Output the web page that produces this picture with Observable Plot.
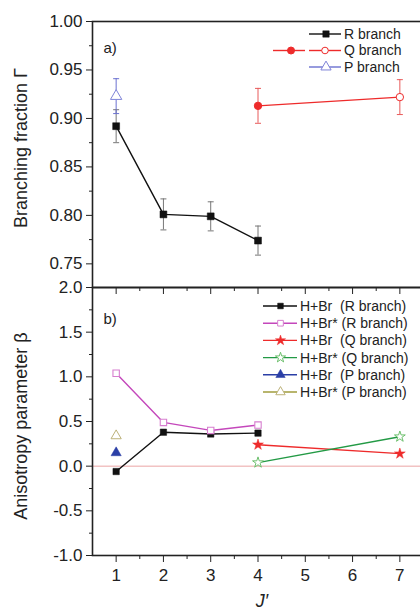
<!DOCTYPE html>
<html><head><meta charset="utf-8">
<script src="https://cdn.jsdelivr.net/npm/d3@7"></script>
<script src="https://cdn.jsdelivr.net/npm/@observablehq/plot@0.6"></script>
<style>
html,body{margin:0;padding:0;background:#fff;overflow:hidden;}
#wrap{position:relative;width:420px;height:612px;overflow:hidden;font-family:"Liberation Sans",Arial,Helvetica,sans-serif;color:#222;}
.ytitle{position:absolute;white-space:nowrap;font-size:18px;line-height:1;transform:translate(-50%,-50%) rotate(-90deg);}
.xtitle{position:absolute;white-space:nowrap;font-size:18px;line-height:1;font-style:italic;transform:translateX(-50%);}
</style></head><body><div id="wrap"></div>
<script>
// ---------- data ----------
// Panel a) branching fraction Γ
const jR = [1, 2, 3, 4];
const gammaR = [0.892, 0.801, 0.799, 0.774];
const gammaRErr = [0.017, 0.016, 0.015, 0.015];
const jQ = [4, 7];
const gammaQ = [0.913, 0.922];
const gammaQErr = [0.018, 0.018];
const qProduct = ["H+Br", "H+Br*"];
const jP = [1];
const gammaP = [0.923];
const gammaPErr = [0.018];
// Panel b) anisotropy parameter β
const betaJR = [1, 2, 3, 4];
const betaBrR = [-0.06, 0.38, 0.36, 0.37];
const betaBrStarR = [1.04, 0.49, 0.40, 0.46];
const betaJQ = [4, 7];
const betaBrQ = [0.24, 0.14];
const betaBrStarQ = [0.04, 0.33];
const betaJP = [1];
const betaBrP = [0.15];
const betaBrStarP = [0.34];
// ticks / labels
const jTicks = [1, 2, 3, 4, 5, 6, 7];
const jMinor = [1.5, 2.5, 3.5, 4.5, 5.5, 6.5];
const gammaTicks = [0.75, 0.80, 0.85, 0.90, 0.95, 1.00];
const gammaMinor = [0.775, 0.825, 0.875, 0.925, 0.975];
const betaTicks = [-1, -0.5, 0, 0.5, 1, 1.5, 2];
const betaMinor = [-0.75, -0.25, 0.25, 0.75, 1.25, 1.75];
const topLegend = ["R branch", "Q branch", "P branch"];
const bottomLegend = ["H+Br  (R branch)", "H+Br* (R branch)", "H+Br  (Q branch)", "H+Br* (Q branch)", "H+Br  (P branch)", "H+Br* (P branch)"];
const yTitleTop = "Branching fraction Γ";
const yTitleBottom = "Anisotropy parameter β";
const xTitle = "J′";

// ---------- helpers ----------
const FONT = '"Liberation Sans", Arial, Helvetica, sans-serif';
const rows = (xs, ys, es) => xs.map((x, i) => ({x, y: ys[i], e: es ? es[i] : 0}));
const capSymbol = {draw(ctx, size) { const w = Math.sqrt(size / Math.PI); ctx.moveTo(-w, 0); ctx.lineTo(w, 0); }};
const AX = "#222";
const C = {
  black: "#111", gray: "#777", red: "#ee2b2b", redErr: "#e85a5a",
  pLine: "#6a70d0", pMark: "#7f84d8",
  magLine: "#c447bb", magMark: "#d77fcf",
  grnLine: "#239a45", grnMark: "#6cbf6c",
  blue: "#2b3fa6", oliveLine: "#a09c3c", oliveMark: "#bdb27a", zero: "#eba5a5"
};
const common = {
  width: 424, marginLeft: 92, marginRight: 1,
  style: {background: "transparent", maxWidth: "none", fontFamily: FONT, overflow: "visible"},
  x: {domain: [0.5, 7.5]}
};
function errorBars(data, color) {
  return [
    Plot.ruleX(data, {x: "x", y1: d => d.y - d.e, y2: d => d.y + d.e, stroke: color, strokeWidth: 1}),
    Plot.dot(data, {x: "x", y: d => d.y + d.e, symbol: capSymbol, r: 3, stroke: color, fill: "none", strokeWidth: 1}),
    Plot.dot(data, {x: "x", y: d => d.y - d.e, symbol: capSymbol, r: 3, stroke: color, fill: "none", strokeWidth: 1})
  ];
}

// ---------- top panel ----------
const dR = rows(jR, gammaR, gammaRErr);
const dQ = rows(jQ, gammaQ, gammaQErr).map((d, i) => ({...d, product: qProduct[i]}));
const dP = rows(jP, gammaP, gammaPErr);

const topPlot = Plot.plot({
  ...common,
  height: 295, marginTop: 21, marginBottom: 8,
  y: {domain: [0.7256, 1.0]},
  marks: [
    Plot.axisY({ticks: gammaTicks, tickFormat: d => d.toFixed(2), tickSize: 6, tickPadding: 4, fontSize: 17, label: null, color: AX}),
    Plot.axisY({ticks: gammaMinor, tickFormat: () => "", tickSize: 3, label: null, color: AX}),
    Plot.axisX({ticks: jTicks, tickFormat: () => "", tickSize: 7, label: null, color: AX}),
    Plot.axisX({ticks: jMinor, tickFormat: () => "", tickSize: 4, label: null, color: AX}),
    ...errorBars(dR, C.gray),
    Plot.line(dR, {x: "x", y: "y", stroke: C.black, strokeWidth: 1.4}),
    Plot.dot(dR, {x: "x", y: "y", symbol: "square", r: 3.9, fill: C.black, stroke: C.black, strokeWidth: 0.5}),
    Plot.line(dQ, {x: "x", y: "y", stroke: C.red, strokeWidth: 1.4}),
    ...errorBars(dQ, C.redErr),
    Plot.dot(dQ, {x: "x", y: "y", symbol: "circle", r: 3.7, fill: d => d.product === "H+Br" ? C.red : "white", stroke: C.red, strokeWidth: 1}),
    ...errorBars(dP, C.pLine),
    Plot.dot(dP, {x: "x", y: "y", symbol: "triangle", r: 4.2, fill: "white", stroke: C.pMark, strokeWidth: 1}),
    Plot.text(["a)"], {frameAnchor: "top-left", dx: 11, dy: 21, textAnchor: "start", fontSize: 15, fill: AX}),
    Plot.frame({stroke: AX, strokeWidth: 1.6})
  ]
});

// ---------- bottom panel ----------
const bBrR = rows(betaJR, betaBrR), bBrStarR = rows(betaJR, betaBrStarR);
const bBrQ = rows(betaJQ, betaBrQ), bBrStarQ = rows(betaJQ, betaBrStarQ);
const bBrP = rows(betaJP, betaBrP), bBrStarP = rows(betaJP, betaBrStarP);

const bottomPlot = Plot.plot({
  ...common,
  height: 332, marginTop: 7, marginBottom: 57,
  y: {domain: [-1, 2]},
  marks: [
    Plot.ruleY([0], {stroke: C.zero, strokeWidth: 1}),
    Plot.axisY({ticks: betaTicks, tickFormat: d => d.toFixed(1), tickSize: 6, tickPadding: 4, fontSize: 17, label: null, color: AX}),
    Plot.axisY({ticks: betaMinor, tickFormat: () => "", tickSize: 3, label: null, color: AX}),
    Plot.axisX({ticks: jTicks, tickFormat: d => String(d), tickSize: 7, tickPadding: 6, fontSize: 17, label: null, color: AX}),
    Plot.axisX({ticks: jMinor, tickFormat: () => "", tickSize: 4, label: null, color: AX}),
    Plot.line(bBrR, {x: "x", y: "y", stroke: C.black, strokeWidth: 1.4}),
    Plot.line(bBrStarR, {x: "x", y: "y", stroke: C.magLine, strokeWidth: 1.4}),
    Plot.line(bBrQ, {x: "x", y: "y", stroke: C.red, strokeWidth: 1.4}),
    Plot.line(bBrStarQ, {x: "x", y: "y", stroke: C.grnLine, strokeWidth: 1.4}),
    Plot.dot(bBrR, {x: "x", y: "y", symbol: "square", r: 3.6, fill: C.black, stroke: C.black, strokeWidth: 0.5}),
    Plot.dot(bBrStarR, {x: "x", y: "y", symbol: "square", r: 3.6, fill: "white", stroke: C.magMark, strokeWidth: 1.1}),
    Plot.dot(bBrQ, {x: "x", y: "y", symbol: "star", r: 3.4, fill: C.red, stroke: C.red, strokeWidth: 0.5}),
    Plot.dot(bBrStarQ, {x: "x", y: "y", symbol: "star", r: 3.4, fill: "white", stroke: C.grnMark, strokeWidth: 1}),
    Plot.dot(bBrP, {x: "x", y: "y", symbol: "triangle", r: 3.8, fill: C.blue, stroke: C.blue, strokeWidth: 0.5}),
    Plot.dot(bBrStarP, {x: "x", y: "y", symbol: "triangle", r: 3.8, fill: "white", stroke: C.oliveMark, strokeWidth: 1}),
    Plot.text(["b)"], {frameAnchor: "top-left", dx: 11, dy: 26, textAnchor: "start", fontSize: 15, fill: AX}),
    Plot.frame({stroke: AX, strokeWidth: 1.6})
  ]
});

// ---------- layout ----------
const wrap = document.getElementById("wrap");
topPlot.style.position = "absolute"; topPlot.style.left = "0px"; topPlot.style.top = "0px";
bottomPlot.style.position = "absolute"; bottomPlot.style.left = "0px"; bottomPlot.style.top = "280px";
wrap.appendChild(bottomPlot);
wrap.appendChild(topPlot);

function addDiv(cls, text, left, top) {
  const d = document.createElement("div");
  d.className = cls; d.textContent = text;
  d.style.left = left + "px"; d.style.top = top + "px";
  wrap.appendChild(d);
}
addDiv("ytitle", yTitleTop, 20.8, 147.5);
addDiv("ytitle", yTitleBottom, 20.8, 426);
addDiv("xtitle", xTitle, 262, 592);

// ---------- legends ----------
const ov = d3.select(wrap).append("svg")
  .attr("width", 420).attr("height", 612)
  .style("position", "absolute").style("left", 0).style("top", 0)
  .style("pointer-events", "none").style("font-family", FONT);
const sym = {square: d3.symbolSquare, circle: d3.symbolCircle, triangle: d3.symbolTriangle, star: d3.symbolStar};
function marker(g, x, y, type, r, fill, stroke, sw) {
  g.append("path").attr("d", d3.symbol(sym[type], Math.PI * r * r)())
    .attr("transform", `translate(${x},${y})`).attr("fill", fill).attr("stroke", stroke).attr("stroke-width", sw);
}
function seg(g, x1, x2, y, color) {
  g.append("line").attr("x1", x1).attr("x2", x2).attr("y1", y).attr("y2", y).attr("stroke", color).attr("stroke-width", 1.4);
}
function label(g, x, y, text, size) {
  g.append("text").attr("x", x).attr("y", y).attr("dy", "0.35em").attr("font-size", size)
    .attr("fill", AX).attr("xml:space", "preserve").style("white-space", "pre").text(text);
}
// top legend
const tl = ov.append("g");
const tRows = [34, 50.5, 67];
seg(tl, 309, 341, tRows[0], C.black); marker(tl, 326, tRows[0], "square", 3.6, C.black, C.black, 0.5);
label(tl, 344, tRows[0], topLegend[0], 14);
seg(tl, 273, 305, tRows[1], C.red); marker(tl, 291, tRows[1], "circle", 3.5, C.red, C.red, 1);
seg(tl, 309, 341, tRows[1], C.red); marker(tl, 325, tRows[1], "circle", 3.3, "white", C.red, 1);
label(tl, 344, tRows[1], topLegend[1], 14);
seg(tl, 309, 341, tRows[2], C.pLine); marker(tl, 326, tRows[2], "triangle", 3.8, "white", C.pMark, 1);
label(tl, 344, tRows[2], topLegend[2], 14);
// bottom legend
const bl = ov.append("g");
const bSpec = [
  [C.black, "square", C.black, C.black, 3.2],
  [C.magLine, "square", "white", C.magMark, 3.2],
  [C.red, "star", C.red, C.red, 3.2],
  [C.grnLine, "star", "white", C.grnMark, 3.2],
  [C.blue, "triangle", C.blue, C.blue, 3.5],
  [C.oliveLine, "triangle", "white", C.oliveMark, 3.5]
];
bottomLegend.forEach((t, i) => {
  const y = 306 + i * 17.2;
  const [lc, s, f, st, r] = bSpec[i];
  seg(bl, 263, 297, y, lc);
  marker(bl, 280.5, y, s, r, f, st, f === "white" ? 1 : 0.5);
  label(bl, 300, y, t, 14);
});
</script>
</body></html>
